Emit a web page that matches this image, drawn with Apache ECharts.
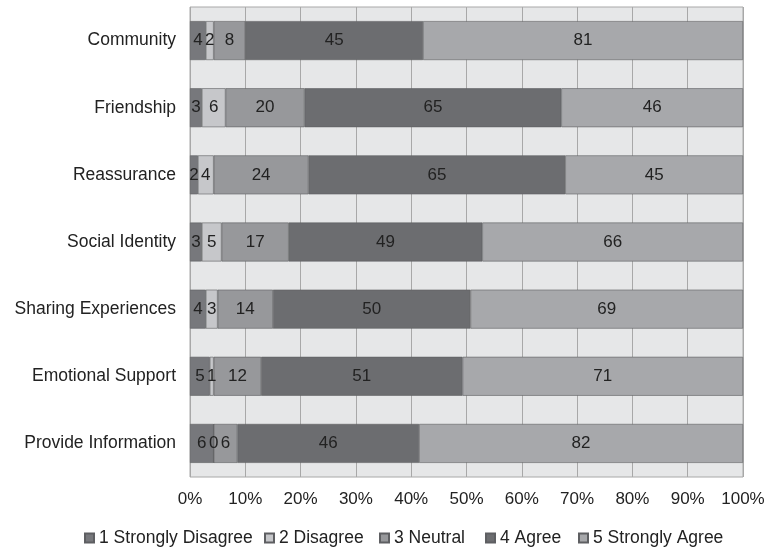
<!DOCTYPE html>
<html>
<head>
<meta charset="utf-8">
<script src="https://cdn.jsdelivr.net/npm/echarts@6/dist/echarts.min.js"></script>
<style>
  html, body { margin: 0; padding: 0; background: #fff; }
  #chart { width: 769px; height: 549px; }
</style>
</head>
<body>
<div id="chart"></div>
<script>
var categories = ['Community', 'Friendship', 'Reassurance', 'Social Identity',
  'Sharing Experiences', 'Emotional Support', 'Provide Information'];
var stronglyDisagree = [4, 3, 2, 3, 4, 5, 6];
var disagree = [2, 6, 4, 5, 3, 1, 0];
var neutral = [8, 20, 24, 17, 14, 12, 6];
var agree = [45, 65, 65, 49, 50, 51, 46];
var stronglyAgree = [81, 46, 45, 66, 69, 71, 82];
var seriesNames = ['1 Strongly Disagree', '2 Disagree', '3 Neutral', '4 Agree', '5 Strongly Agree'];
var seriesColors = ['#77787c', '#c6c7ca', '#97989b', '#6c6d70', '#a7a8ab'];
var total = 140; // respondents per row

// legend entries are spread like the original, one slot each
var legendLeft = [84, 264, 379, 485, 578];

var chart = echarts.init(document.getElementById('chart'));

function makeSeries(i, values) {
  return {
    name: seriesNames[i],
    type: 'bar',
    stack: 'all',
    barWidth: '58%',
    data: values,
    itemStyle: { color: seriesColors[i], borderColor: '#5e5f62', borderWidth: 0.6 },
    label: {
      show: true,
      position: 'inside',
      color: '#222',
      fontSize: 17,
      fontFamily: 'Liberation Sans',
      formatter: function (p) { return p.value; }
    }
  };
}

var legends = seriesNames.map(function (name, i) {
  return {
    top: 529,
    left: legendLeft[i],
    padding: 0,
    itemWidth: 9,
    itemHeight: 9,
    icon: 'rect',
    textStyle: { fontSize: 17.5, color: '#222', fontFamily: 'Liberation Sans', padding: [0, 0, 0, 0] },
    data: [name]
  };
});

var option = {
  backgroundColor: '#fff',
  animation: false,
  textStyle: { fontFamily: 'Liberation Sans' },
  grid: {
    left: 190, right: 26, top: 7, bottom: 72,
    show: true,
    backgroundColor: '#e6e7e8',
    borderColor: '#a8a8a8',
    borderWidth: 1
  },
  legend: legends,
  xAxis: {
    type: 'value',
    min: 0,
    max: total,
    interval: 14,
    axisLine: { show: false },
    axisTick: { show: false },
    splitLine: { show: true, lineStyle: { color: '#a8a8a8', width: 1 } },
    axisLabel: {
      fontSize: 17,
      color: '#222',
      margin: 14,
      formatter: function (v) { return Math.round(v / total * 100) + '%'; }
    }
  },
  yAxis: {
    type: 'category',
    inverse: true,
    data: categories,
    axisLine: { show: false },
    axisTick: { show: false },
    axisLabel: { fontSize: 17.5, color: '#222', margin: 14 }
  },
  series: [
    makeSeries(0, stronglyDisagree),
    makeSeries(1, disagree),
    makeSeries(2, neutral),
    makeSeries(3, agree),
    makeSeries(4, stronglyAgree)
  ]
};

chart.setOption(option);
</script>
</body>
</html>
